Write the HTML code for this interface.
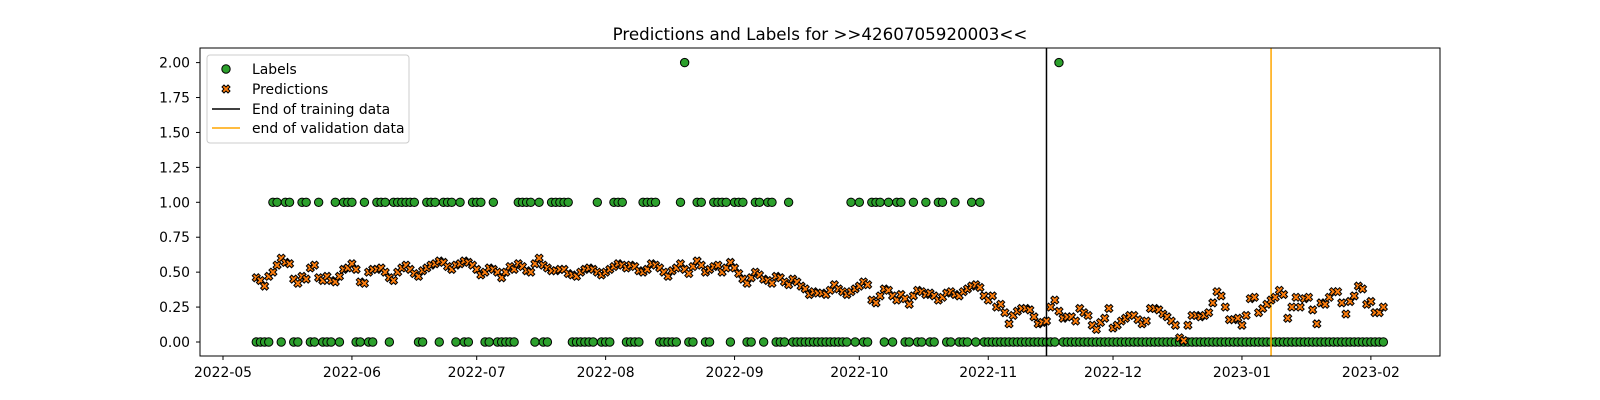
<!DOCTYPE html>
<html><head><meta charset="utf-8"><style>
html,body{margin:0;padding:0;background:#fff;overflow:hidden;width:1600px;height:400px;}
svg{display:block;}
svg text{font-family:"DejaVu Sans","Liberation Sans",sans-serif;fill:#000;}
</style></head><body>
<svg id="chart" width="1600" height="400" viewBox="0 0 1600 400" xmlns="http://www.w3.org/2000/svg">
<rect width="1600" height="400" fill="#fff"/>
<text x="820" y="40" font-size="16.7" text-anchor="middle">Predictions and Labels for &gt;&gt;4260705920003&lt;&lt;</text>
<g id="marks"></g>
<rect x="200" y="48" width="1240" height="308" fill="none" stroke="#000" stroke-width="1"/>
<g id="axes"></g>
<g>
<rect x="207" y="55" width="202" height="88" rx="3" fill="#fff" fill-opacity="0.8" stroke="#ccc"/>
<circle cx="226" cy="69" r="4.2" fill="#2ca02c" stroke="#000" stroke-width="1"/>
<text x="252" y="74" font-size="13.9">Labels</text>
<path d="M-4,-2 L-2,-4 L0,-2 L2,-4 L4,-2 L2,0 L4,2 L2,4 L0,2 L-2,4 L-4,2 L-2,0Z" transform="translate(226,89)" fill="#ff7f0e" stroke="#000" stroke-width="1"/>
<text x="252" y="94" font-size="13.9">Predictions</text>
<line x1="212" y1="109" x2="240" y2="109" stroke="#000" stroke-width="1.5"/>
<text x="252" y="114" font-size="13.9">End of training data</text>
<line x1="212" y1="128" x2="240" y2="128" stroke="#ffa500" stroke-width="1.5"/>
<text x="252" y="133" font-size="13.9">end of validation data</text>
</g>
</svg>
<script>
// day offsets from 2022-05-01
const startDay = 8;
const onesDays = [12,13,15,16,19,20,23,27,29,30,31,34,37,38,39,41,42,43,44,45,46,49,50,51,53,54,55,57,60,61,62,65,71,72,73,74,76,79,80,81,82,83,90,94,95,96,101,102,103,104,110,114,115,118,119,120,121,123,124,125,128,129,131,132,136,151,153,156,157,158,160,162,163,166,169,172,173,176,180,182];
const twosDays = [111,201];
const predictions = [
.46,.44,.40,.47,.50,.55,.60,.57,.56,.45,
.42,.47,.45,.53,.55,.46,.44,.47,.44,.43,
.47,.52,.53,.56,.52,.43,.42,.50,.52,.52,
.53,.50,.46,.44,.50,.53,.55,.52,.49,.47,
.51,.53,.55,.56,.58,.57,.54,.52,.55,.56,
.58,.57,.55,.52,.48,.50,.53,.52,.50,.46,
.50,.54,.52,.56,.54,.51,.50,.56,.60,.55,
.53,.51,.51,.52,.52,.49,.48,.47,.50,.52,
.53,.52,.50,.48,.50,.52,.54,.56,.55,.53,
.55,.54,.51,.50,.52,.56,.55,.53,.50,.47,
.51,.53,.56,.52,.49,.54,.58,.55,.50,.52,
.54,.55,.50,.53,.57,.53,.49,.45,.42,.46,
.50,.48,.45,.44,.42,.47,.46,.43,.41,.45,
.43,.40,.38,.34,.36,.35,.35,.34,.37,.41,
.38,.36,.34,.36,.38,.40,.43,.41,.30,.28,
.33,.38,.37,.33,.30,.34,.31,.27,.33,.37,
.36,.34,.35,.33,.30,.32,.35,.36,.34,.33,
.36,.38,.40,.41,.39,.33,.30,.33,.25,.27,
.21,.13,.19,.22,.24,.24,.23,.18,.13,.14,
.15,.25,.30,.22,.17,.18,.18,.15,.24,.21,
.19,.12,.09,.14,.17,.24,.10,.12,.15,.17,
.19,.19,.16,.13,.15,.24,.24,.23,.20,.18,
.15,.12,.03,.01,.12,.19,.19,.18,.19,.21,
.28,.36,.33,.25,.16,.16,.17,.12,.19,.31,
.32,.21,.24,.27,.30,.32,.37,.34,.17,.25,
.32,.25,.31,.32,.23,.13,.28,.27,.32,.36,
.36,.28,.20,.29,.33,.40,.38,.27,.29,.21,
.21,.25];
const yTicks = [0,0.25,0.5,0.75,1,1.25,1.5,1.75,2];
const xTickLabels = ["2022-05","2022-06","2022-07","2022-08","2022-09","2022-10","2022-11","2022-12","2023-01","2023-02"];
const xTickDays = [0,31,61,92,123,153,184,214,245,276];
const trainEndDay = 198;
const valEndDay = 252;

const NS="http://www.w3.org/2000/svg";
const xs = d => 223 + d*4.159;
const ys = v => 342 - v*139.7;
function mk(tag, attrs, parent){const e=document.createElementNS(NS,tag);for(const k in attrs)e.setAttribute(k,attrs[k]);parent.appendChild(e);return e;}
const axes=document.getElementById('axes'), marks=document.getElementById('marks');

yTicks.forEach(t=>{
  const y=ys(t);
  const l=mk('line',{x1:196,x2:200,y1:y,y2:y,stroke:'#000'},axes);
  
  
  const tx=mk('text',{x:190,y:y+5,'font-size':13.9,'text-anchor':'end'},axes);
  tx.textContent=t.toFixed(2);
  
  
});
xTickDays.forEach((d,i)=>{
  const x=xs(d);
  const l=mk('line',{x1:x,x2:x,y1:356,y2:360,stroke:'#000'},axes);
  
  
  const tx=mk('text',{x:x,y:377,'font-size':13.9,'text-anchor':'middle'},axes);
  tx.textContent=xTickLabels[i];
  
  
});

for(let i=0;i<predictions.length;i++){
  const d=startDay+i;
  const v = twosDays.includes(d)?2:(onesDays.includes(d)?1:0);
  const c=mk('circle',{cx:xs(d),cy:ys(v),r:4.2,fill:'#2ca02c',stroke:'#000','stroke-width':1},marks);
  
  
}
const tl=mk('line',{x1:xs(trainEndDay),x2:xs(trainEndDay),y1:48,y2:356,stroke:'#000','stroke-width':1.5},marks);


const vl=mk('line',{x1:xs(valEndDay),x2:xs(valEndDay),y1:48,y2:356,stroke:'#ffa500','stroke-width':1.5},marks);


predictions.forEach((v,i)=>{
  const p=mk('path',{d:'M-4,-2 L-2,-4 L0,-2 L2,-4 L4,-2 L2,0 L4,2 L2,4 L0,2 L-2,4 L-4,2 L-2,0Z',transform:`translate(${xs(startDay+i)},${ys(v)})`,fill:'#ff7f0e',stroke:'#000','stroke-width':1},marks);
  
  
});
</script>
</body></html>
